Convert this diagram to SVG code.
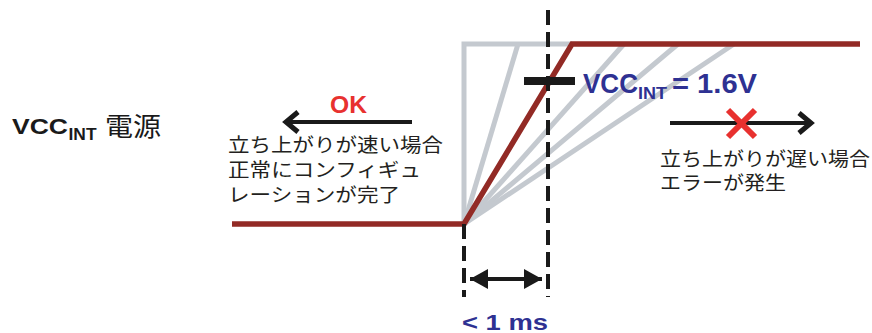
<svg xmlns="http://www.w3.org/2000/svg" width="872" height="333" viewBox="0 0 872 333">
<style>
.grey{fill:none;stroke:#c4c9cf;stroke-width:5}
.red{fill:none;stroke:#922a25;stroke-width:5.5;stroke-linejoin:miter}
.dash{stroke:#1a1a1a;stroke-width:4;stroke-dasharray:15 7}
.blk{stroke:#1a1a1a;stroke-width:4;fill:none}
.b{font-family:"Liberation Sans",Arial,sans-serif;font-weight:bold}
.jp{font-family:"Noto Sans CJK JP","Noto Sans",sans-serif;font-size:19px;fill:#231f20}
.blue{fill:#2e3192}
</style>
<defs>
<marker id="tri" viewBox="0 0 18 20" refX="18" refY="10" markerWidth="18" markerHeight="20" markerUnits="userSpaceOnUse" orient="auto-start-reverse">
<path d="M0,0 L18,10 L0,20 Z" fill="#1a1a1a"/>
</marker>
</defs>
<g id="curves">
<polyline class="grey" points="464,224 464,44 572,44"/>
<line class="grey" x1="464" y1="224" x2="518" y2="44"/>
<line class="grey" x1="464" y1="224" x2="624" y2="44"/>
<line class="grey" x1="464" y1="224" x2="678" y2="44"/>
<line class="grey" x1="464" y1="224" x2="734" y2="44"/>
<polyline class="red" points="232,224 464,224 572,44 860,44"/>
</g>
<g id="connectors">
<line class="dash" x1="548" y1="10" x2="548" y2="297"/>
<line class="dash" x1="464" y1="224" x2="464" y2="297"/>
<rect x="524" y="77" width="51" height="8" fill="#1a1a1a"/>
<line class="blk" x1="412" y1="122" x2="288" y2="122"/>
<polyline class="blk" points="298,112 286,122 298,132" style="stroke-width:5"/>
<line class="blk" x1="670" y1="123" x2="810" y2="123"/>
<polyline class="blk" points="799,113 811,123 799,133" style="stroke-width:5"/>
<line class="blk" x1="470" y1="279" x2="542" y2="279" marker-start="url(#tri)" marker-end="url(#tri)"/>
<g id="xmark" stroke="#e8312f" stroke-width="6">
<line x1="728" y1="110" x2="755" y2="137"/>
<line x1="755" y1="110" x2="728" y2="137"/>
</g>
</g>
<g id="vcc-label">
<text class="b" x="12" y="133.5" font-size="22" textLength="56" lengthAdjust="spacingAndGlyphs" fill="#1a1a1a">VCC</text>
<text class="b" x="68.5" y="140" font-size="17" textLength="28" lengthAdjust="spacingAndGlyphs" fill="#1a1a1a">INT</text>
<text x="105" y="136" font-family="Noto Sans CJK JP,sans-serif" font-size="26" textLength="56" lengthAdjust="spacingAndGlyphs" fill="#1a1a1a">電源</text>
</g>
<g id="ok-label">
<text class="b" x="330" y="113" font-size="23" textLength="37" lengthAdjust="spacingAndGlyphs" fill="#e8312f">OK</text>
<text class="jp" x="228" y="152" textLength="215" lengthAdjust="spacingAndGlyphs">立ち上がりが速い場合</text>
<text class="jp" x="228" y="177" textLength="193" lengthAdjust="spacingAndGlyphs">正常にコンフィギュ</text>
<text class="jp" x="228" y="202" textLength="172" lengthAdjust="spacingAndGlyphs">レーションが完了</text>
</g>
<g id="threshold-label">
<text class="b blue" x="583" y="93" font-size="28" textLength="55" lengthAdjust="spacingAndGlyphs">VCC</text>
<text class="b blue" x="638" y="99" font-size="17" textLength="29" lengthAdjust="spacingAndGlyphs">INT</text>
<text class="b blue" x="672" y="93" font-size="28" textLength="85" lengthAdjust="spacingAndGlyphs">= 1.6V</text>
</g>
<g id="error-label">
<text class="jp" x="660" y="166" textLength="210" lengthAdjust="spacingAndGlyphs">立ち上がりが遅い場合</text>
<text class="jp" x="660" y="190" textLength="126" lengthAdjust="spacingAndGlyphs">エラーが発生</text>
</g>
<g id="time-label">
<text class="b blue" x="462" y="329.5" font-size="22" textLength="86" lengthAdjust="spacingAndGlyphs">&lt; 1 ms</text>
</g>
</svg>
